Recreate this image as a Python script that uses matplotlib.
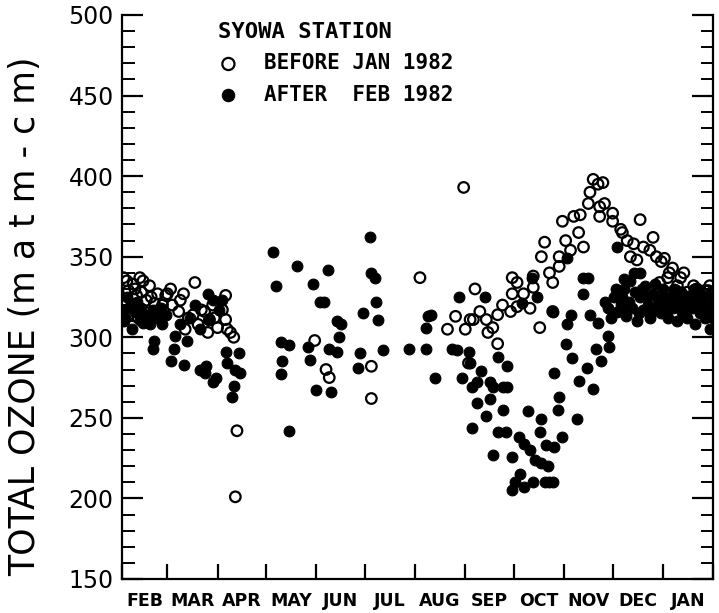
import matplotlib
matplotlib.use("Agg")
import matplotlib.pyplot as plt
import numpy as np
from matplotlib.ticker import MultipleLocator, FixedLocator, NullFormatter, FixedFormatter

# ---- data (day since Feb 1, total ozone in m atm-cm) ----
month_names = ["FEB", "MAR", "APR", "MAY", "JUN", "JUL", "AUG", "SEP", "OCT", "NOV", "DEC", "JAN"]
month_bounds = [0, 28, 59, 89, 120, 150, 181, 212, 242, 273, 303, 334, 365]

before_day = [1, 11, 7, 17, 13, 4, 9, 2, 6, 15, 20, 23, 14, 4, 10, 27, 28, 22,
              3, 8, 12, 18, 25, 30,
              31, 35, 38, 41, 45, 44, 47, 49, 51, 54, 56, 57, 59, 53, 39, 36,
              62, 64, 64, 65, 67, 69, 71, 70,
              119, 126, 128, 154, 154, 184, 211,
              201, 206, 212, 215, 214, 217, 218, 221, 225, 226, 229, 232, 232, 235, 240, 241, 244, 244,
              248, 252, 254, 254, 241, 258, 259, 261, 264, 266, 266, 270, 270, 272, 274, 277, 279, 283, 285, 282,
              288, 289, 291, 294, 297, 295, 298, 295, 303, 303, 308, 309,
              312, 316, 314, 318, 320, 322, 328, 326, 330, 333, 335, 337, 340, 345, 347, 349, 353, 357,
              360, 362, 364, 354, 342, 332,
              338, 343, 350, 355, 358, 363, 365]
before_o3 = [337, 337, 333, 332, 335, 329, 326, 323, 320, 323, 321, 317, 316, 314, 312, 326, 327, 327,
             335, 330, 328, 325, 320, 330,
             320, 316, 327, 312, 334, 314, 308, 317, 316, 311, 320, 312, 306, 303, 305, 323,
             317, 326, 311, 305, 303, 300, 242, 201,
             298, 280, 275, 282, 262, 337, 393,
             305, 313, 305, 311, 284, 311, 330, 316, 311, 303, 306, 296, 314, 320, 316, 327, 319, 334,
             327, 318, 331, 338, 337, 306, 350, 359, 340, 334, 316, 350, 344, 372, 360, 354, 375, 376, 356, 365,
             383, 390, 398, 395, 396, 381, 383, 375, 377, 372, 367, 365,
             360, 358, 350, 348, 373, 356, 362, 354, 350, 347, 349, 337, 343, 337, 340, 328, 332, 323,
             329, 329, 323, 320, 329, 334,
             340, 332, 325, 330, 325, 332, 328]

after_day = [1, 1, 2, 5, 8, 11, 13, 16, 19, 20, 19, 22, 25, 27,
             3, 6, 9, 12, 17, 24,
             30, 32, 33, 36, 38, 40, 42, 45, 48, 48, 51, 52, 53, 54, 56, 56, 58, 60,
             62, 64, 65, 68, 69, 70, 72, 73, 103,
             93, 95, 98, 99, 103, 98, 108, 115, 116, 118, 120,
             122, 125, 127, 128, 129, 133, 135, 134, 133, 146, 147, 149,
             153, 154, 156, 157, 158, 161, 177,
             188, 188, 189, 191, 193, 204, 208, 210,
             207, 214, 215, 216, 216, 219, 219, 222, 225, 227, 227, 229, 229, 232, 232, 235, 235, 237, 238, 238,
             224, 247, 253, 256,
             241, 241, 243, 245, 246, 248, 248, 251, 252, 254, 255, 258, 259, 259, 261, 262, 263, 264, 266,
             267, 267, 269, 270, 272, 274, 275, 277, 275, 266,
             278, 281, 282, 285, 288, 287, 289, 291, 293, 294, 296, 298, 300, 301, 285,
             300, 302, 304, 306, 308, 310, 311, 313, 315, 316, 317, 318, 320, 322, 323, 325, 326, 328, 330,
             331, 333, 334, 336, 337, 339, 340, 342, 343, 345, 346, 348, 349, 351, 352, 354, 355, 357, 358,
             360, 361, 363, 364, 365, 306, 320, 310,
             305, 309, 312, 314, 319, 321, 324, 327, 329, 332, 335, 338, 341, 344, 347, 350, 353, 356, 359,
             362, 365]
after_o3 = [317, 310, 312, 319, 316, 311, 309, 314, 317, 298, 293, 312, 308, 314,
            325, 305, 322, 318, 308, 318,
            285, 293, 301, 308, 283, 298, 312, 320, 280, 305, 278, 282, 327, 311, 323, 272, 275, 317,
            323, 291, 284, 263, 270, 280, 290, 278, 242,
            353, 332, 297, 285, 295, 277, 344, 294, 286, 333, 267,
            322, 322, 342, 293, 266, 310, 308, 300, 291, 281, 290, 315,
            362, 340, 337, 322, 311, 292, 293,
            293, 306, 313, 314, 275, 293, 325, 275,
            292, 291, 284, 269, 244, 272, 259, 279, 251, 272, 262, 269, 227, 288, 241, 269, 255, 241, 282, 269,
            325, 321, 337, 325,
            226, 205, 210, 238, 215, 234, 207, 254, 230, 210, 224, 241, 249, 222, 210, 233, 220, 210, 210,
            232, 278, 255, 263, 238, 296, 308, 314, 349, 316,
            287, 249, 273, 337, 337, 281, 314, 268, 293, 309, 285, 322, 301, 294, 327,
            318, 312, 325, 316, 320, 330, 313, 322, 318, 340, 328, 310, 325, 317, 332, 320, 312, 327, 318,
            324, 315, 330, 320, 312, 325, 318, 322, 310, 328, 316, 320, 312, 325, 318, 308, 322, 315, 326,
            312, 320, 305, 318, 312, 356, 340, 336,
            330, 325, 318, 335, 315, 330, 325, 315, 333, 320, 325, 318, 330, 320, 325, 318, 330, 318, 322,
            315, 325]

# ---- figure ----
fig = plt.figure(figsize=(7.19, 6.13), dpi=100)
ax = fig.add_axes([122 / 719, 34 / 613, 591 / 719, 564 / 613])

ax.scatter(before_day, before_o3, s=58, facecolors="none", edgecolors="black",
           linewidths=1.6, label="BEFORE JAN 1982", zorder=3)
ax.scatter(after_day, after_o3, s=60, facecolors="black", edgecolors="black",
           linewidths=0.8, label="AFTER  FEB 1982", zorder=4)

ax.set_xlim(0, 365)
ax.set_ylim(150, 500)

for side in ["left", "bottom", "right"]:
    ax.spines[side].set_linewidth(1.6)
ax.spines["top"].set_visible(False)

# y ticks
ax.yaxis.set_major_locator(MultipleLocator(50))
ax.yaxis.set_minor_locator(MultipleLocator(10))
ax.tick_params(axis="y", which="major", direction="in", length=15, width=1.6,
               left=True, right=True, labelsize=17, pad=6)
ax.tick_params(axis="y", which="minor", direction="in", length=9, width=1.4,
               left=True, right=True)

# x ticks: boundaries as major, month names at midpoints
ax.xaxis.set_major_locator(FixedLocator(month_bounds))
ax.xaxis.set_major_formatter(NullFormatter())
mids = [(month_bounds[i] + month_bounds[i + 1]) / 2 for i in range(12)]
ax.xaxis.set_minor_locator(FixedLocator(mids))
ax.xaxis.set_minor_formatter(FixedFormatter(month_names))
ax.tick_params(axis="x", which="major", direction="in", length=11, width=1.6, top=False)
ax.tick_params(axis="x", which="minor", length=0, pad=9, top=False)
for lab in ax.xaxis.get_minorticklabels():
    lab.set_fontsize(12.5)
    lab.set_fontweight("bold")

ax.set_ylabel("TOTAL OZONE (m a t m - c m)", fontsize=25)
ax.yaxis.set_label_coords(-0.135, 0.465)

leg = ax.legend(loc="upper left", bbox_to_anchor=((218 - 122) / 591, (579 - 22) / 564),
                frameon=False, borderpad=0, borderaxespad=0, handlelength=1.0,
                handletextpad=1.2, labelspacing=0.55, markerscale=1.15,
                prop={"family": "DejaVu Sans Mono", "weight": "bold", "size": 15},
                title="SYOWA STATION",
                title_fontproperties={"family": "DejaVu Sans Mono", "weight": "bold", "size": 16},
                alignment="left")

fig.savefig("out.png", dpi=100)
